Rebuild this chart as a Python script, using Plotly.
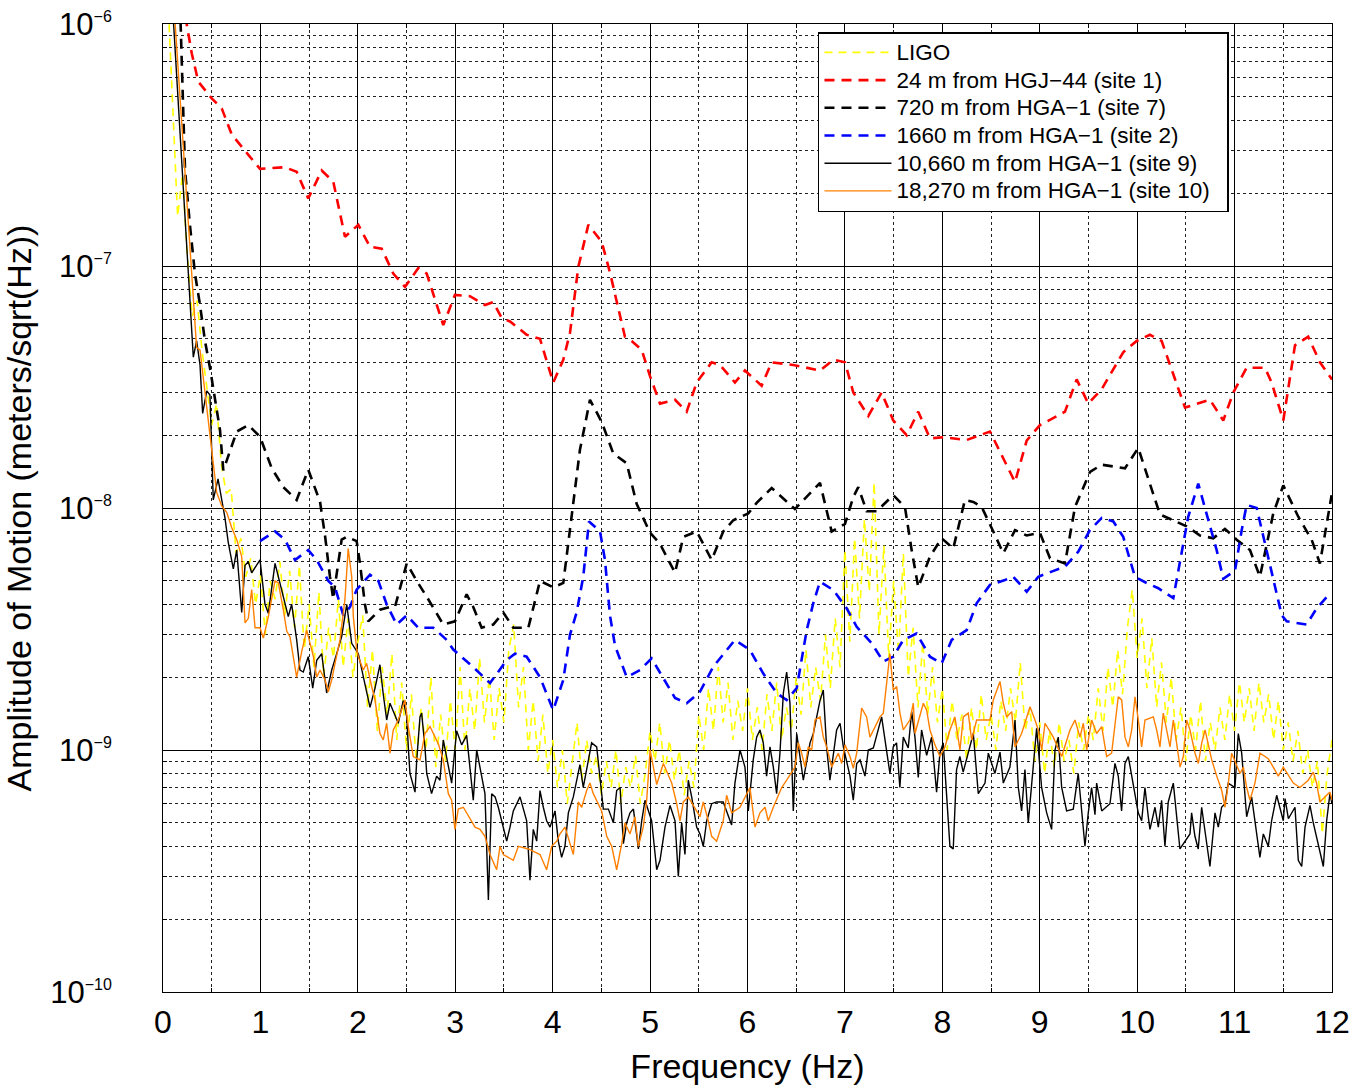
import plotly.graph_objects as go

# ---------------- data (amplitudes in nm/sqrt(Hz), i.e. 1e-9 m/sqrt(Hz)) ----------------
NM = 1e-9

# LIGO: evenly spaced frequency bins, 0.05 Hz apart, starting at 0.05 Hz
ligo_f0 = 0.05
ligo_df = 0.05
ligo_v = [
    1300, 420, 160, 240, 110, 62, 72, 45, 32, 22, 27, 15, 11.5, 12, 6.5, 7.5, 5.2, 6.2, 4.0, 5.3,
    3.0, 5.0, 4.2, 6.0, 3.6, 5.5, 3.2, 5.8, 2.6, 4.0, 2.2, 4.5, 2.0, 3.2, 2.4, 4.2, 2.2, 3.5, 2.0, 2.8,
    3.6, 1.5, 2.6, 1.2, 2.2, 1.4, 2.5, 1.1, 1.9, 1.0, 1.7, 0.9, 1.5, 1.0, 2.0, 0.85, 1.4, 0.9, 1.6, 1.0,
    2.2, 1.0, 1.8, 1.2, 2.4, 1.3, 2.0, 1.1, 1.8, 1.3, 2.6, 3.3, 1.5, 2.2, 1.0, 1.6, 0.9, 1.4, 0.8, 1.1,
    0.7, 1.0, 0.6, 0.9, 1.3, 0.75, 1.1, 0.8, 0.95, 0.65, 0.9, 0.7, 1.0, 0.6, 0.85, 0.7, 0.95, 0.6, 0.8, 1.2,
    0.9, 1.3, 0.8, 1.1, 0.75, 1.0, 0.65, 0.9, 0.7, 1.4, 1.0, 1.8, 1.2, 2.2, 1.3, 1.9, 1.1, 1.6, 1.2, 1.8,
    1.1, 1.5, 1.0, 1.7, 1.2, 1.9, 1.1, 1.5, 1.2, 2.0, 1.4, 2.6, 1.5, 2.2, 1.6, 3.0, 1.8, 3.5, 2.2, 6.7,
    2.8, 7.5, 3.5, 9.0, 4.5, 12.8, 3.0, 7.0, 2.4, 5.0, 2.5, 6.5, 2.0, 3.2, 1.5, 2.8, 1.4, 2.2, 1.3, 1.8,
    1.0, 1.6, 1.1, 1.4, 0.9, 1.5, 1.0, 1.7, 1.1, 1.4, 1.0, 1.6, 1.2, 1.8, 1.3, 2.3, 1.2, 1.5, 0.9, 1.3,
    0.8, 1.2, 0.85, 1.3, 0.9, 1.1, 0.8, 1.3, 1.0, 1.4, 1.1, 1.8, 1.2, 2.2, 1.5, 2.6, 1.7, 3.2, 4.6, 2.4,
    3.5, 1.8, 2.9, 1.5, 2.3, 1.3, 2.0, 1.1, 1.5, 0.9, 1.4, 1.0, 1.6, 0.9, 1.3, 1.0, 1.5, 1.1, 1.7, 1.2,
    1.9, 1.3, 1.8, 1.2, 1.9, 1.3, 1.7, 1.1, 1.6, 1.0, 1.3, 0.9, 1.2, 0.8, 1.0, 0.7, 0.9, 0.45, 0.8, 1.1,
]

# 24 m from HGJ-44 (site 1): (frequency Hz, amplitude nm)
site1_pts = [
    (0.20, 1260), (0.295, 757), (0.362, 578), (0.500, 493), (0.603, 448), (0.705, 350), (0.876, 288),
    (0.996, 252), (1.252, 256), (1.372, 245), (1.491, 190), (1.629, 248), (1.748, 223), (1.868, 132),
    (2.005, 148), (2.125, 120), (2.245, 118), (2.364, 93), (2.484, 82), (2.621, 98), (2.707, 93),
    (2.877, 57), (2.997, 76), (3.151, 75), (3.305, 69), (3.390, 71), (3.477, 61), (3.562, 59),
    (3.733, 52), (3.870, 50), (4.006, 33), (4.109, 41), (4.178, 53), (4.263, 99), (4.366, 148),
    (4.503, 126), (4.588, 94), (4.742, 51), (4.811, 49), (4.914, 45), (5.000, 35), (5.102, 27),
    (5.256, 28), (5.376, 25), (5.478, 33), (5.632, 40), (5.718, 39), (5.871, 33), (5.974, 37),
    (6.145, 32), (6.248, 40), (6.470, 39), (6.744, 37), (6.881, 41), (7.001, 40), (7.086, 30),
    (7.240, 24), (7.377, 30), (7.496, 23), (7.634, 20), (7.753, 25), (7.873, 19.4), (8.009, 19.6),
    (8.250, 19.1), (8.489, 20.7), (8.746, 12.8), (8.866, 19), (9.002, 22), (9.259, 25), (9.379, 34),
    (9.498, 27), (9.636, 31), (9.857, 44), (9.995, 49), (10.131, 52), (10.251, 49), (10.491, 26),
    (10.747, 28), (10.884, 23), (10.987, 30), (11.124, 38), (11.312, 38), (11.380, 33), (11.500, 23),
    (11.620, 47), (11.756, 51), (11.876, 40), (12.0, 34),
]

# 720 m from HGA-1 (site 7)
site7_pts = [
    (0.175, 1200), (0.226, 250), (0.277, 147), (0.328, 93), (0.380, 69), (0.431, 49), (0.482, 38),
    (0.534, 28), (0.585, 21), (0.619, 14.3), (0.705, 17.9), (0.757, 20.7), (0.876, 22), (0.996, 19.7),
    (1.116, 14.6), (1.235, 12.2), (1.372, 10.8), (1.491, 14.4), (1.612, 10.6), (1.663, 7.7), (1.714, 5.2),
    (1.748, 4.2), (1.766, 4.8), (1.834, 7.4), (1.886, 7.6), (1.988, 7.3), (2.022, 5.9), (2.073, 4.0),
    (2.107, 3.4), (2.227, 3.8), (2.330, 3.9), (2.381, 3.9), (2.502, 5.9), (2.604, 5.0), (2.707, 4.3),
    (2.877, 3.3), (2.997, 3.4), (3.117, 4.4), (3.185, 3.9), (3.271, 3.2), (3.390, 3.3), (3.493, 3.7),
    (3.596, 3.2), (3.750, 3.2), (3.870, 5.0), (4.006, 4.7), (4.109, 4.9), (4.178, 8.1), (4.280, 17.4),
    (4.383, 28), (4.503, 22.7), (4.622, 16.8), (4.760, 15.3), (4.862, 10.4), (5.000, 7.9), (5.102, 7.1),
    (5.256, 5.4), (5.341, 7.6), (5.478, 8.0), (5.632, 6.1), (5.751, 8.0), (5.854, 8.9), (6.008, 9.5),
    (6.094, 10.5), (6.248, 12.1), (6.487, 9.9), (6.608, 11.1), (6.744, 12.7), (6.864, 8.0), (7.001, 8.6),
    (7.086, 11.1), (7.137, 12.2), (7.223, 9.7), (7.326, 9.7), (7.496, 11.3), (7.616, 10.1), (7.685, 6.7),
    (7.753, 4.7), (7.873, 6.3), (7.993, 7.5), (8.112, 6.8), (8.232, 10.8), (8.318, 10.6), (8.404, 10.1),
    (8.523, 8.0), (8.626, 6.5), (8.746, 8.1), (8.866, 7.7), (9.002, 7.9), (9.105, 6.2), (9.259, 5.9),
    (9.362, 10.1), (9.516, 14.1), (9.636, 15.1), (9.875, 14.6), (10.011, 17.7), (10.234, 9.4),
    (10.508, 8.4), (10.645, 7.7), (10.781, 7.5), (10.901, 8.2), (11.021, 7.4), (11.158, 6.7),
    (11.260, 5.2), (11.397, 9.5), (11.500, 12.4), (11.654, 9.2), (11.791, 7.4), (11.876, 5.9), (11.996, 11.3),
]

# 1660 m from HGA-1 (site 2)
site2_pts = [
    (0.996, 7.3), (1.150, 8.0), (1.252, 7.4), (1.355, 6.1), (1.491, 6.7), (1.578, 6.1), (1.697, 5.0),
    (1.766, 4.7), (1.851, 3.6), (1.920, 3.9), (1.988, 4.6), (2.125, 5.3), (2.210, 5.0), (2.296, 4.0),
    (2.399, 3.3), (2.502, 3.6), (2.621, 3.2), (2.775, 3.2), (2.912, 2.85), (2.980, 2.6), (3.185, 2.2),
    (3.357, 1.89), (3.528, 2.35), (3.613, 2.5), (3.733, 2.43), (3.870, 2.0), (4.006, 1.46), (4.109, 1.95),
    (4.178, 3.0), (4.246, 3.7), (4.314, 5.2), (4.373, 8.8), (4.486, 8.0), (4.537, 6.1), (4.588, 3.6),
    (4.640, 2.7), (4.760, 2.0), (4.896, 2.14), (5.016, 2.39), (5.170, 1.86), (5.256, 1.64), (5.376, 1.56),
    (5.512, 1.74), (5.649, 2.21), (5.871, 2.85), (6.025, 2.59), (6.162, 2.07), (6.299, 1.72), (6.402, 1.61),
    (6.505, 1.80), (6.608, 3.13), (6.675, 4.04), (6.744, 4.96), (6.881, 4.58), (7.018, 3.85), (7.121, 3.23),
    (7.275, 2.76), (7.394, 2.32), (7.496, 2.43), (7.599, 2.85), (7.736, 3.03), (7.873, 2.43), (7.993, 2.28),
    (8.096, 2.85), (8.250, 3.13), (8.352, 4.04), (8.489, 4.81), (8.643, 5.04), (8.728, 5.2), (8.866, 4.51),
    (8.985, 5.2), (9.122, 5.46), (9.259, 5.72), (9.395, 6.6), (9.515, 8.1), (9.636, 9.1), (9.755, 8.8),
    (9.857, 7.6), (9.977, 5.2), (10.097, 4.9), (10.217, 4.66), (10.371, 4.24), (10.457, 6.6), (10.524, 9.2),
    (10.627, 12.6), (10.713, 9.5), (10.816, 6.7), (10.884, 5.1), (11.004, 5.5), (11.073, 8.1), (11.124, 10.3),
    (11.227, 10.0), (11.329, 6.7), (11.397, 5.2), (11.484, 3.6), (11.535, 3.4), (11.740, 3.3), (11.843, 3.85),
    (11.979, 4.44),
]

# 10,660 m from HGA-1 (site 9)
site9_pts = [
    (0.10, 1150), (0.311, 42), (0.345, 49), (0.380, 39), (0.407, 24.6), (0.449, 30.5), (0.482, 29.3),
    (0.516, 10.8), (0.565, 13.2), (0.636, 9.1), (0.670, 7.2), (0.722, 5.6), (0.757, 6.7), (0.808, 3.7),
    (0.842, 5.8), (0.876, 6.0), (0.910, 5.4), (0.996, 6.1), (1.047, 4.0), (1.081, 3.67), (1.150, 5.9),
    (1.201, 4.9), (1.286, 3.56), (1.321, 4.0), (1.372, 2.85), (1.406, 2.14), (1.440, 2.1), (1.491, 2.43),
    (1.537, 1.8), (1.578, 2.35), (1.629, 2.5), (1.680, 1.72), (1.732, 2.14), (1.783, 2.5), (1.834, 2.94),
    (1.886, 4.0), (1.937, 2.76), (2.005, 2.5), (2.056, 2.0), (2.125, 1.5), (2.176, 1.8), (2.227, 2.25),
    (2.261, 1.7), (2.296, 1.33), (2.330, 1.56), (2.415, 1.29), (2.466, 1.6), (2.502, 1.37), (2.518, 1.03),
    (2.535, 0.8), (2.587, 0.67), (2.604, 0.9), (2.638, 1.37), (2.655, 1.42), (2.689, 1.03), (2.707, 0.8),
    (2.757, 0.66), (2.809, 0.78), (2.843, 0.75), (2.877, 1.1), (2.963, 0.73), (3.014, 1.2), (3.066, 1.05),
    (3.117, 1.15), (3.185, 0.62), (3.220, 1.0), (3.305, 0.66), (3.340, 0.24), (3.374, 0.66), (3.409, 0.64),
    (3.442, 0.58), (3.528, 0.42), (3.562, 0.48), (3.596, 0.56), (3.665, 0.64), (3.699, 0.57), (3.733, 0.51),
    (3.767, 0.29), (3.801, 0.47), (3.836, 0.42), (3.870, 0.68), (3.904, 0.58), (3.938, 0.51), (3.973, 0.48),
    (4.024, 0.56), (4.058, 0.42), (4.092, 0.36), (4.126, 0.40), (4.161, 0.55), (4.212, 0.64), (4.280, 0.87),
    (4.314, 0.70), (4.349, 0.83), (4.400, 1.07), (4.452, 1.03), (4.520, 0.57), (4.572, 0.57), (4.623, 0.50),
    (4.657, 0.68), (4.692, 0.70), (4.726, 0.41), (4.760, 0.50), (4.794, 0.55), (4.829, 0.57), (4.880, 0.39),
    (4.914, 0.51), (4.948, 0.62), (5.016, 0.51), (5.068, 0.32), (5.102, 0.35), (5.153, 0.48), (5.205, 0.59),
    (5.256, 0.51), (5.290, 0.30), (5.324, 0.50), (5.358, 0.37), (5.392, 0.75), (5.427, 0.64), (5.478, 0.48),
    (5.512, 0.45), (5.546, 0.40), (5.581, 0.51), (5.632, 0.60), (5.683, 0.61), (5.751, 0.61), (5.837, 0.49),
    (5.871, 0.73), (5.923, 1.0), (5.974, 0.85), (6.008, 0.56), (6.059, 0.91), (6.094, 1.13), (6.128, 1.21),
    (6.162, 1.07), (6.196, 0.78), (6.231, 1.03), (6.265, 0.85), (6.299, 0.66), (6.333, 0.97), (6.368, 1.72),
    (6.402, 2.1), (6.436, 1.56), (6.470, 0.56), (6.505, 1.17), (6.573, 0.75), (6.608, 0.91), (6.642, 1.07),
    (6.676, 1.17), (6.744, 1.6), (6.778, 1.77), (6.812, 1.03), (6.846, 0.75), (6.915, 1.21), (6.950, 1.29),
    (6.984, 1.03), (7.052, 0.78), (7.086, 0.62), (7.121, 0.88), (7.155, 0.91), (7.206, 0.78), (7.240, 1.0),
    (7.292, 1.02), (7.343, 1.21), (7.377, 1.37), (7.462, 0.8), (7.496, 1.03), (7.530, 1.07), (7.564, 0.7),
    (7.599, 1.13), (7.650, 1.02), (7.685, 1.44), (7.719, 1.13), (7.753, 0.77), (7.787, 1.21), (7.839, 0.95),
    (7.890, 1.13), (7.941, 0.67), (7.975, 0.97), (8.009, 1.07), (8.043, 0.68), (8.078, 0.40), (8.112, 0.39),
    (8.146, 0.83), (8.180, 0.94), (8.214, 0.81), (8.318, 1.17), (8.369, 0.66), (8.438, 0.73), (8.472, 0.97),
    (8.540, 0.80), (8.592, 0.98), (8.626, 0.73), (8.694, 0.85), (8.746, 1.33), (8.780, 0.70), (8.814, 0.56),
    (8.848, 0.83), (8.882, 0.50), (8.968, 1.23), (9.019, 0.70), (9.071, 0.55), (9.122, 0.47), (9.156, 1.0),
    (9.190, 1.13), (9.225, 0.70), (9.276, 0.56), (9.344, 0.57), (9.395, 0.80), (9.464, 0.40), (9.498, 0.55),
    (9.532, 0.70), (9.567, 0.54), (9.584, 0.73), (9.636, 0.56), (9.721, 0.60), (9.772, 0.88), (9.806, 0.78),
    (9.840, 0.56), (9.875, 0.88), (9.909, 0.94), (9.943, 0.78), (10.011, 0.55), (10.046, 0.51), (10.080, 0.70),
    (10.114, 0.53), (10.131, 0.47), (10.183, 0.58), (10.217, 0.48), (10.251, 0.62), (10.285, 0.40),
    (10.319, 0.61), (10.371, 0.73), (10.439, 0.39), (10.491, 0.42), (10.542, 0.45), (10.559, 0.55),
    (10.593, 0.44), (10.627, 0.39), (10.662, 0.58), (10.747, 0.33), (10.799, 0.55), (10.833, 0.48),
    (10.867, 0.58), (10.901, 0.60), (10.935, 0.73), (11.004, 0.70), (11.038, 1.17), (11.073, 0.97),
    (11.124, 0.53), (11.175, 0.64), (11.260, 0.36), (11.295, 0.45), (11.346, 0.40), (11.380, 0.51),
    (11.432, 0.65), (11.500, 0.51), (11.518, 0.63), (11.552, 0.52), (11.620, 0.58), (11.654, 0.35),
    (11.689, 0.33), (11.723, 0.48), (11.774, 0.59), (11.808, 0.50), (11.911, 0.33), (11.945, 0.51),
    (11.979, 0.66), (12.0, 0.60),
]

# 18,270 m from HGA-1 (site 10)
site10_pts = [
    (0.115, 1150), (0.345, 46), (0.380, 45), (0.482, 20), (0.551, 11.6), (0.603, 10.2), (0.654, 9.6),
    (0.705, 8.3), (0.757, 7.4), (0.808, 6.3), (0.842, 3.35), (0.876, 3.5), (0.910, 4.6), (0.945, 3.2),
    (0.996, 3.2), (1.030, 2.9), (1.081, 3.55), (1.150, 5.0), (1.184, 4.9), (1.235, 3.8), (1.270, 3.1),
    (1.304, 2.93), (1.338, 2.43), (1.372, 2.0), (1.424, 2.55), (1.475, 3.13), (1.544, 2.43), (1.578, 2.0),
    (1.612, 2.14), (1.663, 1.95), (1.697, 1.74), (1.732, 1.95), (1.766, 2.28), (1.817, 2.85), (1.868, 4.2),
    (1.901, 6.8), (1.937, 5.2), (1.954, 3.55), (1.988, 2.6), (2.005, 2.43), (2.056, 2.14), (2.090, 2.28),
    (2.142, 1.83), (2.176, 1.61), (2.227, 1.17), (2.261, 1.1), (2.296, 1.29), (2.330, 0.97), (2.364, 1.21),
    (2.415, 1.33), (2.484, 1.61), (2.518, 1.25), (2.569, 0.94), (2.638, 0.91), (2.689, 1.17), (2.741, 1.25),
    (2.826, 1.06), (2.877, 0.91), (2.929, 0.66), (2.963, 0.62), (2.997, 0.47), (3.031, 0.57), (3.083, 0.58),
    (3.168, 0.51), (3.203, 0.48), (3.254, 0.47), (3.305, 0.44), (3.357, 0.37), (3.425, 0.32), (3.459, 0.40),
    (3.493, 0.37), (3.596, 0.35), (3.648, 0.40), (3.750, 0.39), (3.870, 0.37), (3.938, 0.32), (3.990, 0.40),
    (4.041, 0.42), (4.075, 0.45), (4.127, 0.48), (4.212, 0.37), (4.263, 0.61), (4.298, 0.58), (4.349, 0.68),
    (4.383, 0.73), (4.417, 0.66), (4.503, 0.56), (4.555, 0.44), (4.606, 0.40), (4.657, 0.32), (4.709, 0.41),
    (4.742, 0.50), (4.794, 0.45), (4.845, 0.53), (4.879, 0.40), (4.930, 0.48), (4.965, 0.62), (5.000, 1.0),
    (5.033, 0.85), (5.068, 0.72), (5.136, 0.88), (5.222, 0.73), (5.273, 0.60), (5.307, 0.51), (5.341, 0.61),
    (5.392, 0.64), (5.512, 0.53), (5.546, 0.61), (5.597, 0.51), (5.632, 0.44), (5.683, 0.42), (5.751, 0.51),
    (5.786, 0.65), (5.837, 0.55), (5.923, 0.58), (5.974, 0.64), (6.025, 0.70), (6.077, 0.48), (6.128, 0.55),
    (6.180, 0.58), (6.213, 0.51), (6.265, 0.58), (6.351, 0.70), (6.402, 0.75), (6.487, 0.85), (6.522, 1.07),
    (6.556, 0.97), (6.590, 0.85), (6.624, 1.03), (6.659, 1.0), (6.693, 1.33), (6.744, 1.37), (6.778, 1.13),
    (6.813, 1.03), (6.864, 0.85), (6.932, 0.97), (6.967, 0.88), (7.001, 1.05), (7.052, 0.94), (7.086, 0.84),
    (7.121, 0.97), (7.172, 1.49), (7.223, 1.37), (7.257, 1.13), (7.360, 1.37), (7.394, 1.42), (7.462, 2.5),
    (7.496, 1.77), (7.531, 1.83), (7.565, 1.42), (7.599, 1.21), (7.667, 1.33), (7.702, 1.56), (7.719, 1.17),
    (7.805, 1.56), (7.839, 1.46), (7.873, 1.21), (7.924, 1.05), (7.976, 0.94), (8.027, 1.03), (8.078, 1.21),
    (8.129, 1.37), (8.181, 1.0), (8.215, 1.37), (8.266, 1.42), (8.301, 1.1), (8.352, 1.33), (8.420, 1.33),
    (8.489, 1.33), (8.523, 1.61), (8.592, 1.92), (8.626, 1.56), (8.660, 1.37), (8.712, 1.44), (8.746, 1.03),
    (8.814, 1.17), (8.900, 1.51), (8.951, 1.33), (8.985, 1.21), (9.020, 1.0), (9.054, 1.29), (9.139, 1.13),
    (9.225, 0.94), (9.310, 1.21), (9.362, 1.33), (9.413, 1.13), (9.447, 1.29), (9.482, 1.0), (9.533, 1.33),
    (9.584, 1.17), (9.636, 1.25), (9.687, 0.94), (9.738, 0.97), (9.806, 1.66), (9.841, 1.61), (9.875, 1.13),
    (9.909, 1.03), (9.944, 1.21), (9.978, 1.66), (10.012, 1.33), (10.046, 1.03), (10.080, 1.33),
    (10.166, 1.37), (10.200, 1.21), (10.234, 1.03), (10.268, 1.42), (10.337, 1.03), (10.371, 1.33),
    (10.440, 0.85), (10.474, 0.94), (10.508, 1.33), (10.542, 1.21), (10.594, 0.97), (10.628, 0.88),
    (10.663, 1.07), (10.697, 1.21), (10.765, 0.91), (10.817, 0.78), (10.868, 0.68), (10.902, 0.58),
    (10.936, 0.73), (10.970, 0.97), (11.056, 0.80), (11.090, 0.85), (11.124, 0.70), (11.158, 0.62),
    (11.209, 0.73), (11.261, 0.97), (11.346, 0.92), (11.397, 0.85), (11.449, 0.78), (11.500, 0.85),
    (11.603, 0.73), (11.671, 0.70), (11.756, 0.75), (11.808, 0.81), (11.842, 0.73), (11.876, 0.61),
    (11.979, 0.67), (12.0, 0.62),
]

series_names = [
    "LIGO",
    "24 m from HGJ\u221244 (site 1)",
    "720 m from HGA\u22121 (site 7)",
    "1660 m from HGA\u22121 (site 2)",
    "10,660 m from HGA\u22121 (site 9)",
    "18,270 m from HGA\u22121 (site 10)",
]

y_tick_exponents = [-10, -9, -8, -7, -6]
x_ticks = list(range(0, 13))

# ---------------- figure ----------------
ligo_f = [round(ligo_f0 + i * ligo_df, 3) for i in range(len(ligo_v))]
LEGEND_TEXT_PX = 22.5


def split(pts):
    return [p[0] for p in pts], [p[1] * NM for p in pts]


def legend_label(name):
    # trailing no-break spaces give the legend box its right-hand padding
    return '<span style="font-size:%spx">%s\u00a0\u00a0</span>' % (LEGEND_TEXT_PX, name)


fig = go.Figure()
fig.add_trace(go.Scatter(x=ligo_f, y=[v * NM for v in ligo_v], mode="lines",
                         name=legend_label(series_names[0]),
                         line=dict(color="#ffff00", width=1.6, dash="8px,6px")))
styles = [
    ("#ff0000", 2.6, "10px,7px"),
    ("#000000", 2.6, "10px,7px"),
    ("#0000ff", 2.6, "10px,7px"),
    ("#000000", 1.4, "solid"),
    ("#ff8000", 1.4, "solid"),
]
for name, pts, (c, w, d) in zip(series_names[1:], [site1_pts, site7_pts, site2_pts, site9_pts, site10_pts], styles):
    fx, fy = split(pts)
    fig.add_trace(go.Scatter(x=fx, y=fy, mode="lines", name=legend_label(name),
                             line=dict(color=c, width=w, dash=d)))

FONT = "Liberation Sans, Arial, Helvetica, sans-serif"
fig.update_layout(
    width=1353, height=1086,
    margin=dict(l=163, r=21, t=24, b=94, autoexpand=False),
    paper_bgcolor="white", plot_bgcolor="white",
    font=dict(family=FONT, color="black"),
    showlegend=True,
    legend=dict(x=0.5603, y=0.9917, xanchor="left", yanchor="top", bgcolor="white",
                bordercolor="black", borderwidth=1.5, font=dict(size=19, family=FONT, color="black"),
                itemwidth=67, tracegroupgap=0),
    xaxis=dict(range=[0, 12], tickvals=x_ticks, ticktext=[str(t) for t in x_ticks],
               showgrid=True, gridcolor="black", gridwidth=1, zeroline=False,
               showline=True, linecolor="black", linewidth=1, mirror="allticks",
               ticks="inside", ticklen=8, tickcolor="black", tickfont=dict(size=32, family=FONT),
               ticklabelstandoff=2,
               title=dict(text="Frequency (Hz)", font=dict(size=34, family=FONT), standoff=14),
               minor=dict(dtick=0.5, tick0=0, showgrid=True, gridcolor="#222222", griddash="dot",
                          gridwidth=1, ticks="inside", ticklen=4, tickcolor="black"),
               automargin=False),
    yaxis=dict(type="log", range=[-10, -6],
               tickvals=[10.0 ** e for e in y_tick_exponents],
               ticktext=["10<sup><span style=\"font-size:16px\">\u2212%d</span></sup>" % (-e)
                         for e in y_tick_exponents],
               showgrid=True, gridcolor="black", gridwidth=1, zeroline=False,
               showline=True, linecolor="black", linewidth=1, mirror="allticks",
               ticks="inside", ticklen=8, tickcolor="black", tickfont=dict(size=31, family=FONT),
               ticklabelstandoff=44,
               title=dict(text="Amplitude of Motion (meters/sqrt(Hz))", font=dict(size=34, family=FONT), standoff=8),
               minor=dict(dtick="D1", showgrid=True, gridcolor="#222222", griddash="dot",
                          gridwidth=1, ticks="inside", ticklen=4, tickcolor="black"),
               automargin=False),
)

fig.write_html("out.html", config={"displayModeBar": False},
               post_script="document.body.style.margin='0';document.body.style.overflow='hidden';")
